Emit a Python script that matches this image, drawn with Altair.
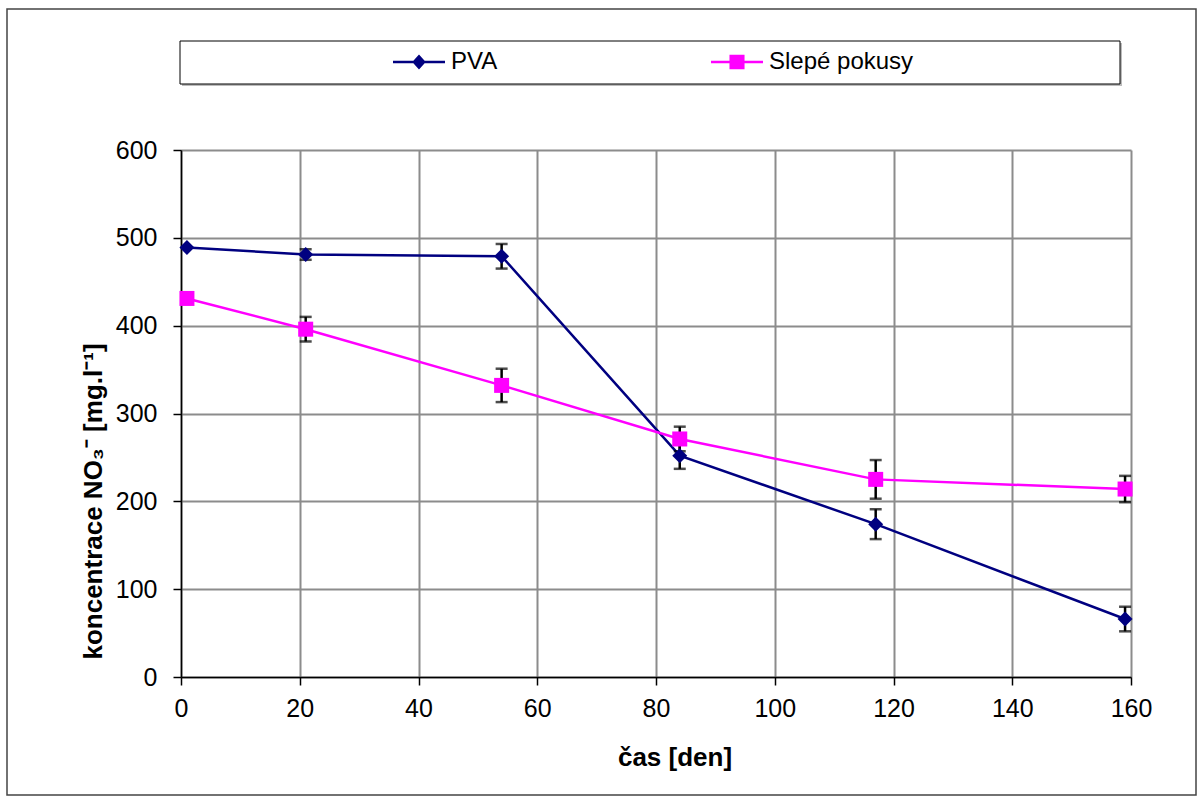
import altair as alt
import pandas as pd

# ---- data ----
days = [1, 21, 54, 84, 117, 159]
pva = [489, 481, 479, 252, 174, 66]
pva_err = [0, 6, 14, 15, 17, 14]
slepe = [431, 396, 332, 271, 225, 214]
slepe_err = [0, 14, 19, 14, 22, 15]

series_names = ["PVA", "Slepé pokusy"]
series_colors = ["#000080", "#FF00FF"]
marker_shapes = ["diamond", "square"]
legend_shapes = [
    "M-1,-0.05H1V0.05H-1Z M0,-0.29L0.26,0L0,0.29L-0.26,0Z",
    "M-1,-0.05H1V0.05H-1Z M-0.29,-0.28H0.29V0.28H-0.29Z",
]
x_ticks = [0, 20, 40, 60, 80, 100, 120, 140, 160]
y_ticks = [0, 100, 200, 300, 400, 500, 600]

rows = []
for name, color, marker, vals, errs in zip(series_names, series_colors, marker_shapes,
                                           [pva, slepe], [pva_err, slepe_err]):
    for d, v, e in zip(days, vals, errs):
        rows.append(dict(series=name, color=color, marker=marker, day=d, value=v,
                         lo=v - e, hi=v + e, err=e))
df = pd.DataFrame(rows)

FONT = "Liberation Sans"

xenc = alt.X("day:Q", scale=alt.Scale(domain=[0, 160], nice=False, zero=False),
             axis=alt.Axis(values=x_ticks, title="čas [den]", tickSize=8, labelPadding=11,
                           titleX=493.5, titleY=88, titleBaseline="alphabetic",
                           titleAlign="center", titleAngle=0))
yenc = alt.Y("value:Q", scale=alt.Scale(domain=[0, 600], nice=False),
             axis=alt.Axis(values=y_ticks, title="koncentrace NO₃⁻ [mg.l⁻¹]", tickSize=8,
                           labelPadding=16, titleX=-80, titleY=351, titleAngle=270,
                           titleBaseline="alphabetic", titleAlign="center"))

base = alt.Chart(df)

frame_df = pd.DataFrame({"k": [0]})
outer = alt.Chart(frame_df).mark_rect(fill="transparent", stroke="#444444", strokeWidth=1.5).encode(
    x=alt.value(-174), x2=alt.value(1015), y=alt.value(-141), y2=alt.value(645))
legend_shadow = alt.Chart(frame_df).mark_rect(fill="#bbbbbb").encode(
    x=alt.value(1), x2=alt.value(941), y=alt.value(-107), y2=alt.value(-64))
legend_box = alt.Chart(frame_df).mark_rect(fill="white", stroke="black", strokeWidth=1).encode(
    x=alt.value(-1), x2=alt.value(939), y=alt.value(-109), y2=alt.value(-66))

lines = base.mark_line(strokeWidth=2.5).encode(
    x=xenc, y=yenc,
    color=alt.Color("color:N", scale=None),
    detail="series:N")

errdf = base.transform_filter("datum.err > 0")
err_rule = errdf.mark_rule(color="black", strokeWidth=2.5).encode(
    x="day:Q", y="lo:Q", y2="hi:Q")
cap_lo = errdf.mark_tick(orient="horizontal", color="black", thickness=2.5, size=12).encode(
    x="day:Q", y="lo:Q")
cap_hi = errdf.mark_tick(orient="horizontal", color="black", thickness=2.5, size=12).encode(
    x="day:Q", y="hi:Q")

points = base.mark_point(filled=True, size=225, opacity=1).encode(
    x="day:Q", y="value:Q",
    color=alt.Color("color:N", scale=None),
    shape=alt.Shape("marker:N", scale=None))

leg = dict(orient="none", legendX=212, legendY=-114, direction="horizontal", title=None,
           labelFont=FONT, labelFontSize=24, labelColor="black", symbolSize=2704,
           symbolStrokeWidth=0, symbolOpacity=1, labelOffset=6, columnPadding=213,
           padding=0, labelLimit=400)
legend_layer = base.mark_point(filled=True, opacity=0).encode(
    x="day:Q", y="value:Q",
    color=alt.Color("series:N", scale=alt.Scale(domain=series_names, range=series_colors),
                    legend=alt.Legend(**leg)),
    shape=alt.Shape("series:N", scale=alt.Scale(domain=series_names, range=legend_shapes),
                    legend=alt.Legend(**leg)))

chart = alt.layer(outer, legend_shadow, legend_box, lines, err_rule, cap_lo, cap_hi, points,
                  legend_layer).properties(
    width=950, height=527,
    autosize=alt.AutoSizeParams(type="none"),
    padding={"left": 181, "top": 150, "right": 73, "bottom": 126},
    background="white",
).configure_view(strokeWidth=0).configure_axis(
    labelFont=FONT, labelFontSize=25, labelColor="black", labelFlush=False,
    titleFont=FONT, titleFontSize=26, titleFontWeight="bold", titleColor="black",
    gridColor="#8c8c8c", gridWidth=2, gridOpacity=1,
    domainColor="black", domainWidth=1.5, tickColor="black", tickWidth=1.5,
)

chart.save("out.html", embed_options={"renderer": "svg", "actions": False})
